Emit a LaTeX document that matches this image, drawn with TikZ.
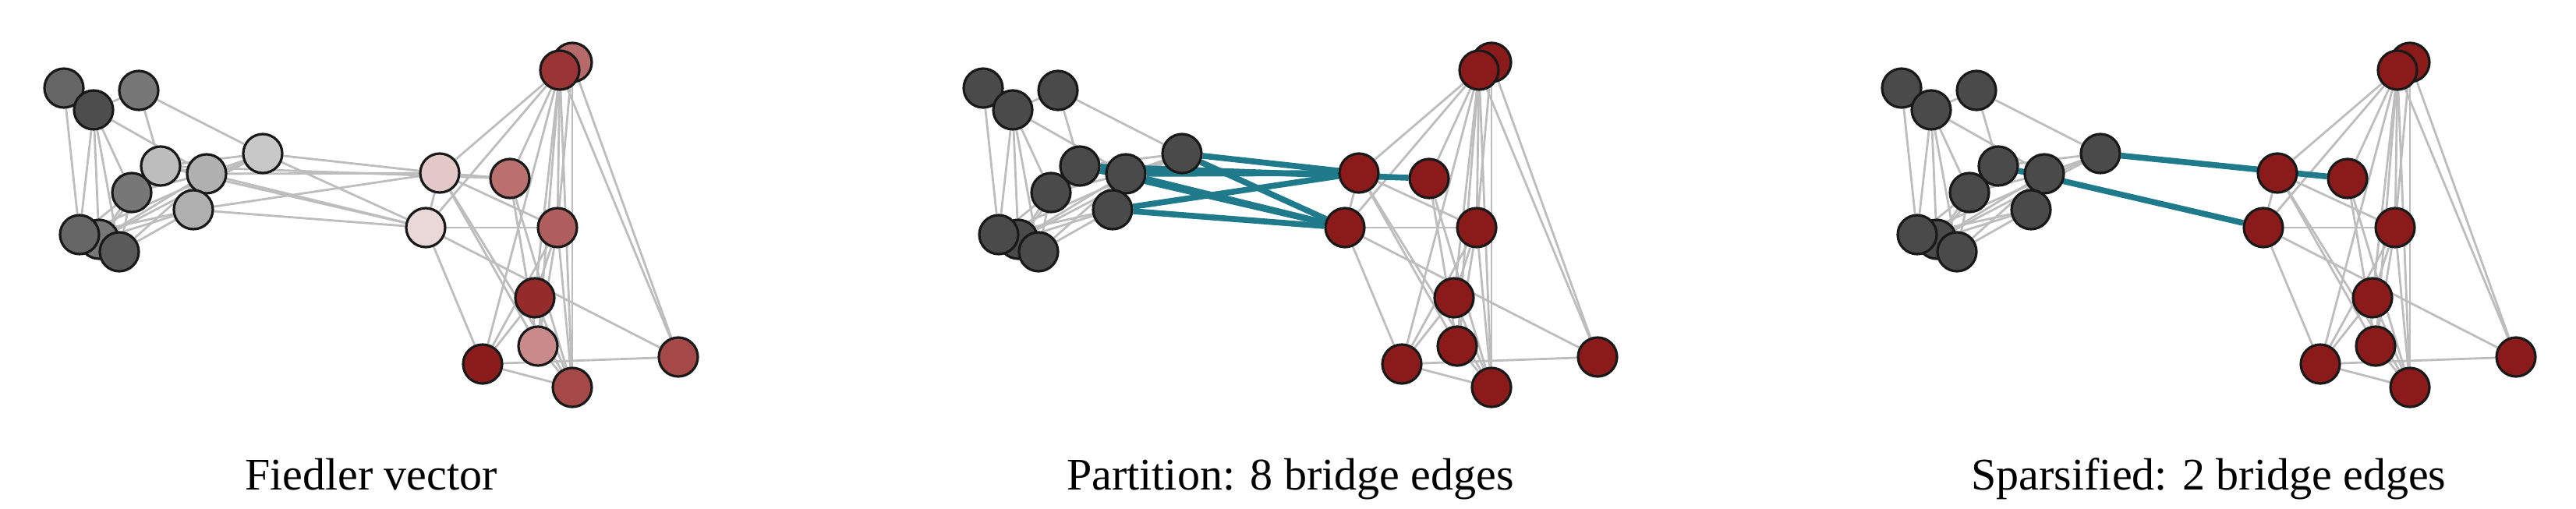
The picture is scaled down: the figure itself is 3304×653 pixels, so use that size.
\documentclass[tikz,border=0pt]{standalone}
\usepackage{fontspec}
\setmainfont{Liberation Serif}
\usetikzlibrary{backgrounds}

\definecolor{edgegray}{HTML}{BDBDBD}
\definecolor{bridgeteal}{HTML}{1F7A8C}
\definecolor{lg}{HTML}{4A4A4A}
\definecolor{rg}{HTML}{8B1A1A}
% fiedler shades
\definecolor{f1}{HTML}{666666}
\definecolor{f2}{HTML}{4D4D4D}
\definecolor{f3}{HTML}{777777}
\definecolor{f4}{HTML}{BDBDBD}
\definecolor{f5}{HTML}{B0B0B0}
\definecolor{f6}{HTML}{C8C8C8}
\definecolor{f9}{HTML}{666666}
\definecolor{f11}{HTML}{5A5A5A}
\definecolor{f12}{HTML}{B86A6A}
\definecolor{f13}{HTML}{9B3535}
\definecolor{f14}{HTML}{E3C8C8}
\definecolor{f15}{HTML}{BB7070}
\definecolor{f16}{HTML}{EAD8D8}
\definecolor{f17}{HTML}{B05E5E}
\definecolor{f18}{HTML}{952B2B}
\definecolor{f19}{HTML}{C98A8A}
\definecolor{f20}{HTML}{8B1C1C}
\definecolor{f21}{HTML}{A54848}

\tikzset{
  vert/.style={circle,draw=black!90,line width=1.6pt,minimum size=25pt,inner sep=0pt},
  edge/.style={edgegray,line width=1.4pt},
  bridge/.style={bridgeteal,line width=3.8pt},
  caption/.style={font=\fontsize{29}{30}\selectfont,anchor=base}
}

% name/x/y/fiedler colour/group colour
\newcommand\nodelist{1/82/113/f1/lg, 2/120/141/f2/lg, 3/178/116/f3/lg,
  4/206/213/f4/lg, 5/265/223/f5/lg, 6/337/197/f6/lg, 7/169/247/f3/lg,
  8/248/269/f5/lg, 10/127/307/f3/lg, 9/102/301/f9/lg, 11/153/323/f11/lg,
  12/734/80/f12/rg, 13/718/90/f13/rg, 14/564/222/f14/rg, 15/654/229/f15/rg,
  16/546/292/f16/rg, 17/715/292/f17/rg, 18/686/382/f18/rg, 19/690/444/f19/rg,
  20/619/467/f20/rg, 21/734/497/f21/rg, 22/870/458/f21/rg}
\newcommand\edgelist{1/2,1/9,2/3,2/9,2/10,2/7,2/5,3/6,3/4,4/5,4/6,5/6,4/7,5/7,
  7/9,7/10,7/11,8/9,8/10,8/11,5/10,5/11,6/10,6/9,4/10,9/10,10/11,8/5,2/11,
  13/14,13/16,13/15,13/17,13/18,13/19,13/20,13/21,13/22,12/22,12/21,12/17,
  14/15,14/16,14/17,14/19,14/21,16/17,16/20,16/22,15/19,15/21,17/18,17/20,
  17/21,18/20,18/21,19/21,20/21,20/22,17/19,12/13}
\newcommand\crosslist{6/14,6/16,5/14,5/16,4/16,8/14,8/16,4/15}

% prefix, shift, fill
\newcommand\graphpanel[3]{%
  \begin{scope}[shift={(#2,0)}]
    \foreach \n/\x/\y/\fc/\gc in \nodelist
      \node[vert,fill=#3] (#1\n) at (\x,\y) {};
    \begin{scope}[on background layer]
      \foreach \u/\v in \edgelist
        \draw[edge] (#1\u) -- (#1\v);
    \end{scope}
  \end{scope}}

\begin{document}
\begin{tikzpicture}[x=0.5pt,y=-0.5pt]
  \useasboundingbox (0,0) rectangle (3304,653);

  \graphpanel{a}{0}{\fc}
  \graphpanel{b}{1179}{\gc}
  \graphpanel{c}{2357}{\gc}

  \begin{scope}[on background layer]
    \foreach \u/\v in \crosslist {
      \draw[edge] (a\u) -- (a\v);
      \draw[bridge] (b\u) -- (b\v);
    }
    \draw[bridge] (c6) -- (c15);
    \draw[bridge] (c4) -- (c16);
  \end{scope}

  \node[caption] (capa) at (476,628) {Fiedler vector};
  \node[caption] (capb) at (1655,628) {Partition: 8 bridge edges};
  \node[caption] (capc) at (2833,628) {Sparsified: 2 bridge edges};
\end{tikzpicture}
\end{document}
